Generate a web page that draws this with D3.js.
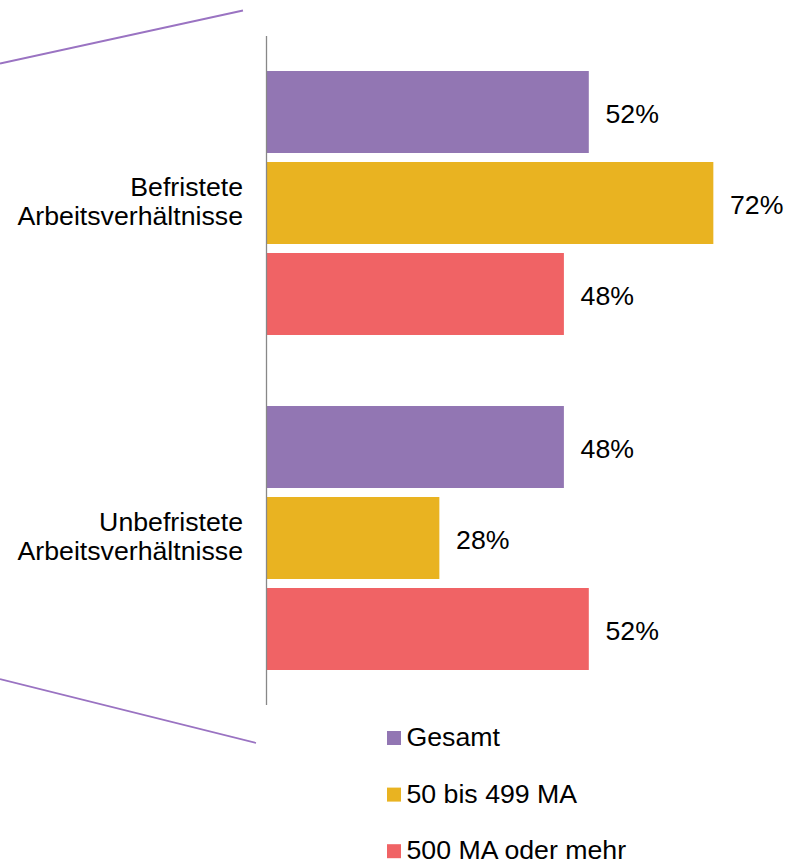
<!DOCTYPE html>
<html>
<head>
<meta charset="utf-8">
<script src="https://cdn.jsdelivr.net/npm/d3@7"></script>
<style>
  html, body { margin: 0; padding: 0; background: #fff; }
  svg { display: block; font-family: "Liberation Sans", Arial, sans-serif; }
</style>
</head>
<body>
<svg id="chart" width="807" height="863"></svg>
<script>
// Contract types (categories) and company-size series
const categories = ["Befristete Arbeitsverhältnisse", "Unbefristete Arbeitsverhältnisse"];
const categoryLines = [["Befristete", "Arbeitsverhältnisse"], ["Unbefristete", "Arbeitsverhältnisse"]];
const seriesNames = ["Gesamt", "50 bis 499 MA", "500 MA oder mehr"];
const seriesColors = ["#9276B3", "#E9B321", "#F06365"];

// Shares in percent, per series, in category order
const gesamt = [52, 48];
const mittel = [72, 28];
const gross = [48, 52];
const seriesValues = [gesamt, mittel, gross];

const svg = d3.select("#chart");
const fontSize = 26.7;

// Layout
const axisX = 266.5;
const plotTop = 36, plotBottom = 705;

const x = d3.scaleLinear().domain([0, 100]).range([265, 887.7]);
const y0 = d3.scaleBand().domain(categories).range([plotTop, plotBottom])
  .paddingInner(0.212).paddingOuter(0.1045);
const y1 = d3.scaleBand().domain(seriesNames).range([0, y0.bandwidth()])
  .paddingInner(0.099).paddingOuter(0);

// Connector lines (breakout from a parent chart)
const connectorColor = "#9A73C2";
svg.append("line")
  .attr("x1", 0).attr("y1", 63.5).attr("x2", 243).attr("y2", 10.5)
  .attr("stroke", connectorColor).attr("stroke-width", 1.8);
svg.append("line")
  .attr("x1", 0).attr("y1", 679).attr("x2", 256).attr("y2", 743)
  .attr("stroke", connectorColor).attr("stroke-width", 1.8);

// Bars
const rows = [];
categories.forEach((c, ci) => {
  seriesNames.forEach((s, si) => {
    rows.push({ cat: c, series: s, value: seriesValues[si][ci], color: seriesColors[si] });
  });
});

const g = svg.append("g");
g.selectAll("rect.bar").data(rows).join("rect")
  .attr("class", "bar")
  .attr("x", axisX)
  .attr("y", d => y0(d.cat) + y1(d.series))
  .attr("width", d => x(d.value) - axisX)
  .attr("height", y1.bandwidth())
  .attr("fill", d => d.color);

// Value labels
g.selectAll("text.val").data(rows).join("text")
  .attr("class", "val")
  .attr("x", d => x(d.value) + 16.7)
  .attr("y", d => y0(d.cat) + y1(d.series) + y1.bandwidth() / 2 + 11)
  .attr("font-size", fontSize)
  .attr("fill", "#000")
  .text(d => d.value + "%");

// Category axis line
svg.append("line")
  .attr("x1", axisX).attr("x2", axisX)
  .attr("y1", plotTop).attr("y2", plotBottom)
  .attr("stroke", "#888").attr("stroke-width", 1.3);

// Category labels, two lines, right aligned
categories.forEach((c, ci) => {
  const cy = y0(c) + y0.bandwidth() / 2;
  const t = svg.append("text")
    .attr("text-anchor", "end")
    .attr("font-size", fontSize)
    .attr("fill", "#000");
  categoryLines[ci].forEach((line, li) => {
    t.append("tspan")
      .attr("x", 243)
      .attr("y", cy - 7 + li * 29)
      .text(line);
  });
});

// Legend
const legend = svg.append("g");
seriesNames.forEach((s, i) => {
  const base = 746 + i * 56.6;
  legend.append("rect")
    .attr("x", 387).attr("y", base - 15)
    .attr("width", 14).attr("height", 14)
    .attr("fill", seriesColors[i]);
  legend.append("text")
    .attr("x", 406.5).attr("y", base)
    .attr("font-size", fontSize)
    .attr("fill", "#000")
    .text(s);
});
</script>
</body>
</html>
